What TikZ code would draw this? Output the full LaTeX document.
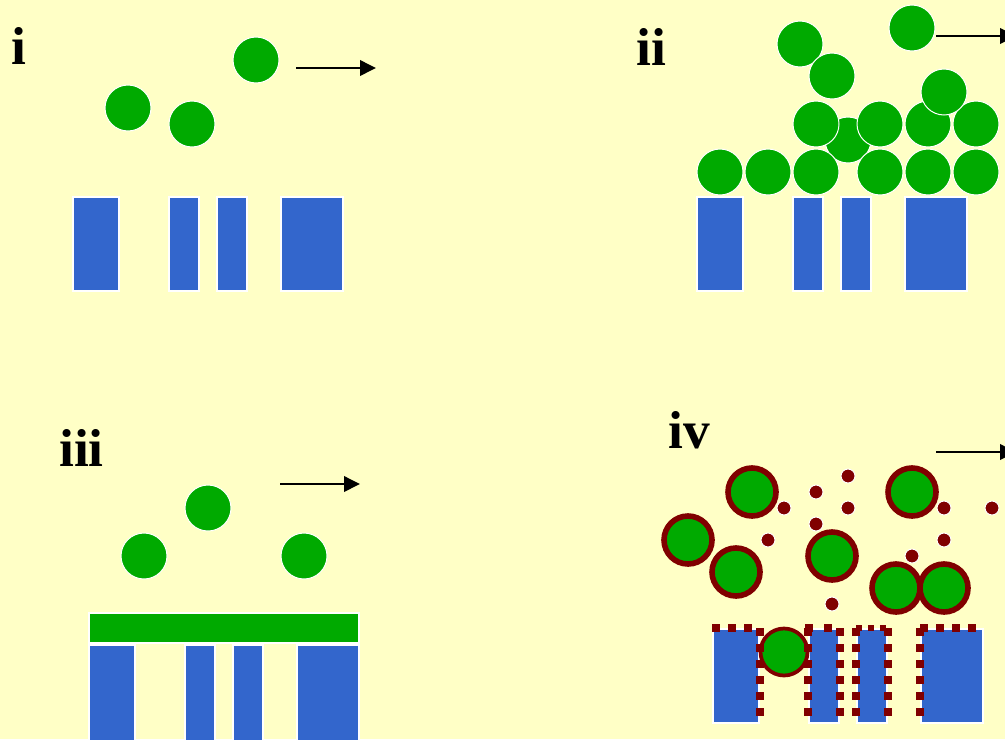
\documentclass[tikz,border=0pt]{standalone}
\usepackage{fontspec}
\setmainfont{Liberation Serif}
\usetikzlibrary{arrows.meta}
\definecolor{bgyellow}{RGB}{255,255,198}
\definecolor{ballgreen}{RGB}{0,170,0}
\definecolor{poreblue}{RGB}{51,102,204}
\definecolor{maroon}{RGB}{128,0,0}
\tikzset{
  ball/.style={fill=ballgreen, draw=white, line width=0.75pt},
  coated/.style={fill=ballgreen, draw=maroon, line width=4.2pt},
  smallcoat/.style={fill=ballgreen, draw=maroon, line width=2.8pt},
  dot/.style={fill=maroon, draw=white, line width=0.75pt},
  wall/.style={fill=poreblue, draw=white, line width=0.9pt},
  layer/.style={fill=ballgreen, draw=white, line width=0.9pt},
  flow/.style={line width=1.9pt, -{Triangle[length=12pt, width=11.5pt]}},
  panellabel/.style={font=\fontsize{40}{40}\selectfont\bfseries, anchor=base west, inner sep=0pt},
  sq/.style={fill=maroon, draw=none},
}
\newcommand{\sqdot}[3]{\fill[maroon] ({#1-#3},{#2-#3}) rectangle ({#1+#3},{#2+#3});}
\begin{document}
\begin{tikzpicture}[x=0.75pt, y=-0.75pt]
\fill[bgyellow] (0,0) rectangle (1005,739);
\useasboundingbox (0,0) rectangle (1005,739);

% ---------- panel i ----------
\node[panellabel] (li) at (11,64) {i};
\draw[wall] (73,197) rectangle (119,291);
\draw[wall] (169,197) rectangle (199,291);
\draw[wall] (217,197) rectangle (247,291);
\draw[wall] (281,197) rectangle (343,291);
\draw[ball] (128,108) circle (23);
\draw[ball] (192,124) circle (23);
\draw[ball] (256,60) circle (23);
\coordinate (ai1) at (296,68);
\coordinate (ai2) at (376,68);
\draw[flow] (ai1) -- (ai2);

% ---------- panel ii ----------
\node[panellabel] (lii) at (636,65) {ii};
\draw[wall] (697,197) rectangle (743,291);
\draw[wall] (793,197) rectangle (823,291);
\draw[wall] (841,197) rectangle (871,291);
\draw[wall] (905,197) rectangle (967,291);
\draw[ball] (848,140) circle (23);
\foreach \x in {720,768,816,880,928,976} {\draw[ball] (\x,172) circle (23);}
\foreach \x in {816,880,928,976} {\draw[ball] (\x,124) circle (23);}
\draw[ball] (944,92) circle (23);
\draw[ball] (800,44) circle (23);
\draw[ball] (832,76) circle (23);
\draw[ball] (912,28) circle (23);
\coordinate (aii1) at (936,36);
\coordinate (aii2) at (1016,36);
\draw[flow] (aii1) -- (aii2);

% ---------- panel iii ----------
\node[panellabel] (liii) at (59,466) {iii};
\draw[layer] (89,613) rectangle (359,643);
\draw[wall] (89,645) rectangle (135,745);
\draw[wall] (185,645) rectangle (215,745);
\draw[wall] (233,645) rectangle (263,745);
\draw[wall] (297,645) rectangle (359,745);
\draw[ball] (144,556) circle (23);
\draw[ball] (208,508) circle (23);
\draw[ball] (304,556) circle (23);
\coordinate (aiii1) at (280,484);
\coordinate (aiii2) at (360,484);
\draw[flow] (aiii1) -- (aiii2);

% ---------- panel iv ----------
\node[panellabel] (liv) at (668,448) {iv};
\draw[wall] (713,629) rectangle (759,723);
\draw[wall] (809,629) rectangle (839,723);
\draw[wall] (857,629) rectangle (887,723);
\draw[wall] (921,629) rectangle (983,723);
% particle in pore
\draw[smallcoat] (784,652) circle (23.5);
% maroon square coating
\foreach \x in {716,732,748} {\sqdot{\x}{628}{4}}
\foreach \y in {632,648,...,712} {\sqdot{760}{\y}{4}}
\sqdot{809}{628}{4} \sqdot{828}{628}{4}
\foreach \y in {632,648,...,712} {\sqdot{808}{\y}{4} \sqdot{840}{\y}{4}}
\foreach \x in {859,871,883} {\sqdot{\x}{628}{3}}
\foreach \y in {632,648,...,712} {\sqdot{856}{\y}{4} \sqdot{888}{\y}{4}}
\foreach \y in {632,648,...,712} {\sqdot{920}{\y}{4}}
\foreach \x in {924,940,956,972} {\sqdot{\x}{628}{4}}
% coated particles
\draw[coated] (752,492) circle (24);
\draw[coated] (688,540) circle (24);
\draw[coated] (736,572) circle (24);
\draw[coated] (832,556) circle (24);
\draw[coated] (912,492) circle (24);
\draw[coated] (896,588) circle (24);
\draw[coated] (944,588) circle (24);
% free polymer dots
\foreach \p in {(848,476),(816,492),(784,508),(848,508),(944,508),(992,508),(816,524),(768,540),(944,540),(912,556),(832,604)} {\draw[dot] \p circle (7);}
\coordinate (aiv1) at (936,452);
\coordinate (aiv2) at (1016,452);
\draw[flow] (aiv1) -- (aiv2);
\end{tikzpicture}
\end{document}
